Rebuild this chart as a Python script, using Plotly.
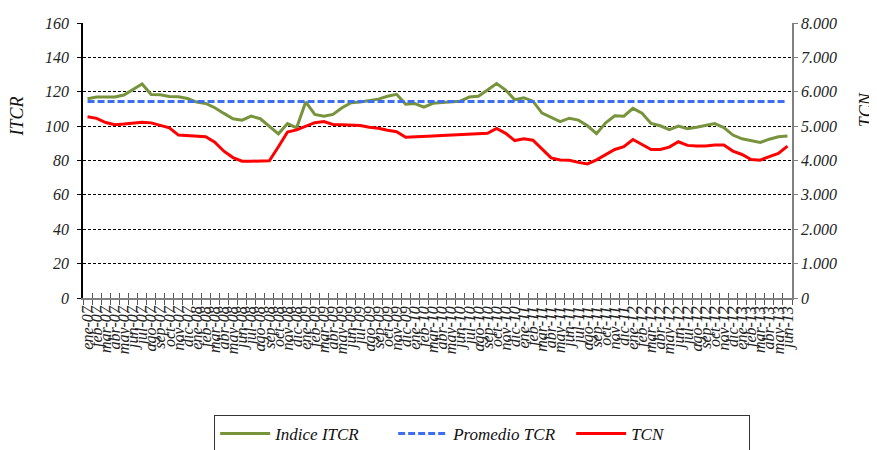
import plotly.graph_objects as go

meses = ["ene", "feb", "mar", "abr", "may", "jun", "jul", "ago", "sep", "oct", "nov", "dic"]
categorias = [f"{m}-{a:02d}" for a in range(7, 14) for m in meses][:78]

itcr = [115.9, 116.9, 116.9, 116.9, 118.1, 121.4, 124.5, 118.4, 118.3, 117.3, 117.1, 116.1,
        114.0, 113.2, 110.7, 107.4, 104.3, 103.5, 105.8, 104.3, 100.0, 95.5, 101.5, 99.0,
        114.1, 106.8, 105.8, 106.8, 110.7, 113.6, 114.1, 115.0, 115.7, 117.4, 118.5, 112.8,
        113.1, 111.0, 113.3, 113.8, 114.1, 114.5, 116.9, 117.4, 121.0, 124.8, 121.0, 115.3,
        116.5, 114.5, 107.6, 105.0, 102.6, 104.6, 103.5, 100.2, 95.6, 101.9, 106.0, 105.8,
        110.3, 107.5, 101.6, 100.2, 97.9, 100.0, 98.5, 99.3, 100.4, 101.5, 99.2, 94.8,
        92.6, 91.5, 90.5, 92.4, 93.8, 94.2]

tcn = [5270, 5225, 5105, 5040, 5060, 5085, 5115, 5095, 5030, 4950, 4740, 4730,
       4710, 4690, 4535, 4270, 4085, 3980, 3980, 3980, 3990, 4400, 4830, 4890,
       5000, 5100, 5135, 5050, 5040, 5025, 5015, 4965, 4940, 4880, 4835, 4675,
       4695, 4715, 4715, 4725, 4740, 4755, 4760, 4765, 4790, 4930, 4790, 4580,
       4635, 4590, 4325, 4075, 4015, 4005, 3945, 3900, 4020, 4175, 4320, 4400,
       4610, 4465, 4320, 4320, 4390, 4545, 4440, 4420, 4420, 4450, 4450, 4275,
       4175, 4030, 4010, 4110, 4205, 4420]

promedio_valor = 114.4
promedio = [promedio_valor] * len(categorias)

FONT = "Liberation Serif"

fig = go.Figure()
fig.add_trace(go.Scatter(x=categorias, y=itcr, name="Indice ITCR", mode="lines",
                         line=dict(color="#77933C", width=3), xaxis="x", yaxis="y"))
fig.add_trace(go.Scatter(x=categorias, y=promedio, name="Promedio TCR", mode="lines",
                         line=dict(color="#3D6EF0", width=3, dash="7px,3px"), xaxis="x2", yaxis="y"))
fig.add_trace(go.Scatter(x=categorias, y=tcn, name="TCN", mode="lines",
                         line=dict(color="#FF0000", width=3), xaxis="x", yaxis="y2"))

tickfont = dict(family=FONT, size=16, color="#222222", style="italic")

fig.update_layout(
    width=869, height=442,
    paper_bgcolor="white", plot_bgcolor="white",
    separators=",.",
    margin=dict(l=75, r=85, t=15, b=152, autoexpand=False),
    xaxis=dict(type="category", categoryorder="array", categoryarray=categorias,
               range=[-0.5, 77.5], tickson="boundaries", ticks="outside", ticklen=5,
               tickmode="array", tickvals=categorias, ticktext=categorias,
               tickcolor="#555555", showline=True, linecolor="#808080", linewidth=1.5,
               showgrid=False, tickangle=-90,
               tickfont=dict(family=FONT, size=16, color="#222222", style="italic"),
               zeroline=False),
    xaxis2=dict(type="category", categoryorder="array", categoryarray=categorias,
                range=[-0.5, 77.5], overlaying="x", side="bottom", tickson="boundaries",
                tickmode="array", tickvals=categorias,
                ticks="inside", ticklen=5, tickcolor="#555555", showticklabels=False,
                showgrid=False, showline=False, zeroline=False),
    yaxis=dict(range=[0, 160], dtick=20, tickmode="linear", showgrid=True,
               gridcolor="black", griddash="3px,2px", gridwidth=1,
               showline=True, linecolor="black", linewidth=1.5,
               ticks="outside", ticklen=4, tickcolor="black", tickfont=tickfont,
               ticklabelstandoff=5, zeroline=False),
    yaxis2=dict(range=[0, 8000], dtick=1000, tickmode="linear", overlaying="y", side="right",
                showgrid=False, showline=True, linecolor="#808080", linewidth=1.5,
                ticks="outside", ticklen=4, tickcolor="#808080", tickformat=",.0f",
                tickfont=tickfont, zeroline=False),
    legend=dict(orientation="h", x=0.563, xanchor="center", y=-0.425, yanchor="top",
                bordercolor="#333333", borderwidth=1, bgcolor="white",
                font=dict(family=FONT, size=17, color="#111111", style="italic"),
                entrywidth=113, itemwidth=50),
    showlegend=True,
)

fig.add_annotation(text="ITCR", xref="paper", yref="paper", x=-0.0917, y=0.66,
                   xanchor="center", yanchor="middle",
                   textangle=-90, showarrow=False,
                   font=dict(family=FONT, size=18, color="#111111", style="italic"))
fig.add_annotation(text="TCN", xref="paper", yref="paper", x=1.104, y=0.685,
                   xanchor="center", yanchor="middle",
                   textangle=-90, showarrow=False,
                   font=dict(family=FONT, size=18, color="#111111", style="italic"))

fig.write_html("out.html")
